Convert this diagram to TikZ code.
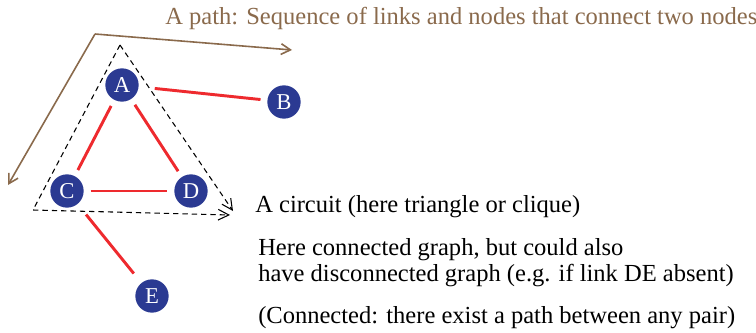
\documentclass[tikz,border=0pt]{standalone}
\usepackage{fontspec}
\setmainfont{Liberation Serif}
\usepackage{xcolor}
\usetikzlibrary{arrows.meta, calc}
\definecolor{nodeBlue}{HTML}{2B3A92}
\definecolor{linkRed}{HTML}{EE2A2E}
\definecolor{pathBrown}{HTML}{8A6A4C}

\tikzset{
  vertex/.style={circle, fill=nodeBlue, text=white, minimum size=25pt, inner sep=0pt, font=\fontsize{17}{17}\selectfont},
  link/.style={linkRed, line width=2.2pt, shorten <=5pt, shorten >=5pt},
  walk/.style={pathBrown, line width=1.2pt, -{Straight Barb[length=7pt, width=8pt]}},
  loopway/.style={black, line width=0.8pt, dash pattern=on 4pt off 3pt, -{Straight Barb[length=8pt, width=8pt]}},
  caption/.style={anchor=base west, inner sep=0pt, font=\fontsize{18.4}{22}\selectfont}
}

\begin{document}
\begin{tikzpicture}[x=0.75pt, y=-0.75pt]
  \useasboundingbox (0,0) rectangle (756,332);
  % nodes
  \node[vertex] (A) at (122,85) {A};
  \node[vertex] (B) at (284,102) {B};
  \node[vertex] (C) at (67,191) {C};
  \node[vertex] (D) at (191,191) {D};
  \node[vertex] (E) at (152,296) {E};
  % links
  \draw[link, shorten <=12pt] (A) -- (B);
  \draw[link] (A) -- (C);
  \draw[link] (A) -- (D);
  \draw[link] (C) -- (D);
  \draw[link, shorten <=10pt, shorten >=9pt] (C) -- (E);
  % the path
  \coordinate (corner) at (95,34);
  \coordinate (pathL) at (8,185);
  \coordinate (pathR) at (292,50);
  \draw[walk] (corner) -- (pathL);
  \draw[walk] (corner) -- (pathR);
  % the circuit
  \coordinate (top) at (120,45);
  \coordinate (low) at (33,210);
  \coordinate (tipR) at (233,211);
  \coordinate (tipB) at (230,215);
  \draw[loopway] (top) -- (tipR);
  \draw[loopway] (top) -- (low) -- (tipB);
  % texts
  \node[caption, text=pathBrown] (pathText) at (165,24) {A path: Sequence of links and nodes that connect two nodes};
  \node[caption] (circText) at (255,212) {A circuit (here triangle or clique)};
  \node[caption] (connText) at (258,255) {Here connected graph, but could also};
  \node[caption] (discText) at (258,281) {have disconnected graph (e.g. if link DE absent)};
  \node[caption] (pairText) at (258,323) {(Connected: there exist a path between any pair)};
\end{tikzpicture}
\end{document}
